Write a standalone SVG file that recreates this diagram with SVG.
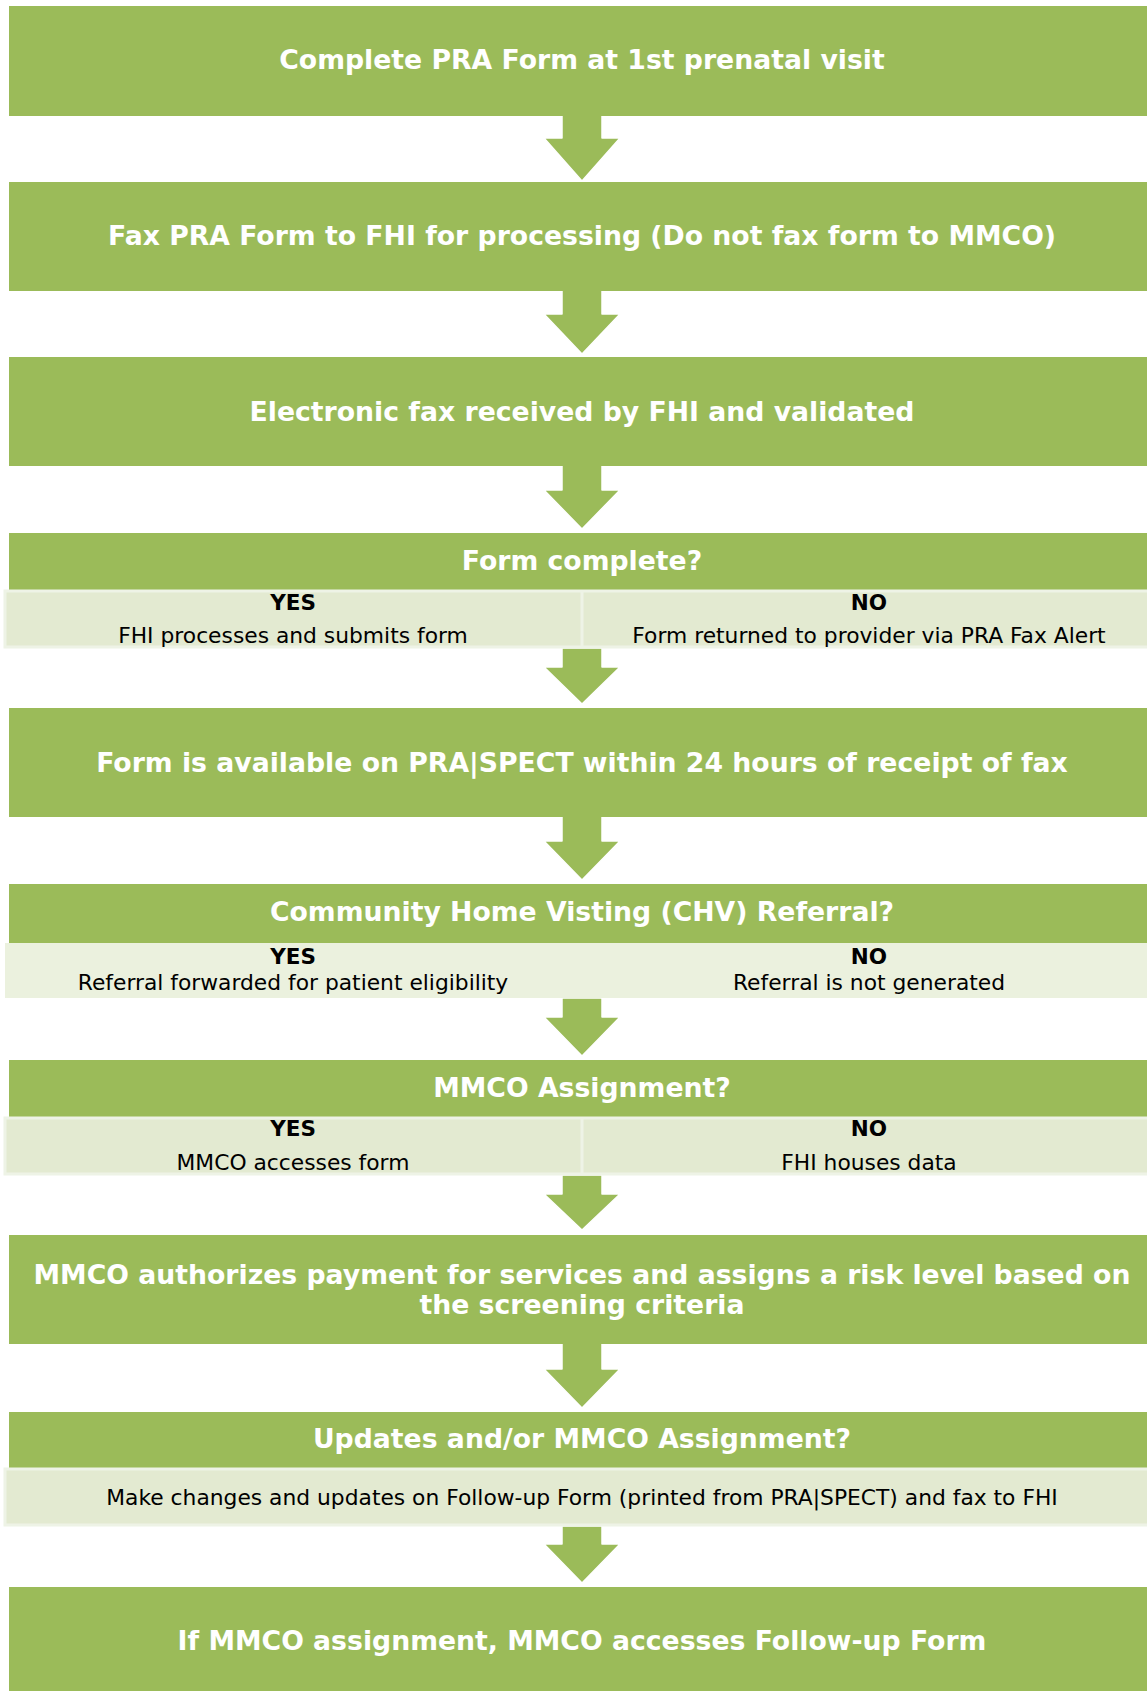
<svg xmlns="http://www.w3.org/2000/svg" width="1147" height="1691" viewBox="0 0 1147 1691">
<style>
.box{fill:#9bbb59}
.sub{fill:#e3ead1;stroke:#eef3e6;stroke-width:3}
.subl{fill:#ebf1de}
.div{stroke:#eef3e6;stroke-width:3}
.arr{fill:#9bbb59;stroke:#ffffff;stroke-width:1.5;stroke-linejoin:round}
.h{font-family:"DejaVu Sans",Verdana,sans-serif;font-weight:bold;font-size:26.7px;fill:#ffffff;text-anchor:middle}
.t{font-family:"DejaVu Sans",Verdana,sans-serif;font-size:21.8px;fill:#000000;text-anchor:middle}
.tb{font-family:"DejaVu Sans",Verdana,sans-serif;font-weight:bold;font-size:21.5px;fill:#000000;text-anchor:middle}
</style>
<rect x="0" y="0" width="1147" height="1691" fill="#ffffff"/>
<g id="connectors">
<path class="arr" d="M562,115 L602,115 L602,138 L620,138 L582,181 L544,138 L562,138 Z"/>
<path class="arr" d="M562,290 L602,290 L602,314 L620,314 L582,354 L544,314 L562,314 Z"/>
<path class="arr" d="M562,465 L602,465 L602,490 L620,490 L582,529 L544,490 L562,490 Z"/>
<path class="arr" d="M562,648 L602,648 L602,667 L620,667 L582,704 L544,667 L562,667 Z"/>
<path class="arr" d="M562,816 L602,816 L602,841 L620,841 L582,880 L544,841 L562,841 Z"/>
<path class="arr" d="M562,998 L602,998 L602,1017 L620,1017 L582,1056 L544,1017 L562,1017 Z"/>
<path class="arr" d="M562,1175 L602,1175 L602,1194 L620,1194 L582,1230 L544,1194 L562,1194 Z"/>
<path class="arr" d="M562,1343 L602,1343 L602,1369 L620,1369 L582,1408 L544,1369 L562,1369 Z"/>
<path class="arr" d="M562,1526 L602,1526 L602,1544 L620,1544 L582,1583 L544,1544 L562,1544 Z"/>
</g>
<g id="n1">
<rect class="box" x="9" y="6" width="1146" height="110"/>
<text class="h" x="582" y="69">Complete PRA Form at 1st prenatal visit</text>
</g>
<g id="n2">
<rect class="box" x="9" y="182" width="1146" height="109"/>
<text class="h" x="582" y="245">Fax PRA Form to FHI for processing (Do not fax form to MMCO)</text>
</g>
<g id="n3">
<rect class="box" x="9" y="357" width="1146" height="109"/>
<text class="h" x="582" y="421">Electronic fax received by FHI and validated</text>
</g>
<g id="n4">
<rect class="box" x="9" y="533" width="1146" height="57"/>
<text class="h" x="582" y="570">Form complete?</text>
<rect class="sub" x="5" y="591" width="1160" height="56"/>
<line class="div" x1="582" y1="592" x2="582" y2="646"/>
<text class="tb" x="293" y="610">YES</text>
<text class="t" x="293" y="643">FHI processes and submits form</text>
<text class="tb" x="869" y="610">NO</text>
<text class="t" x="869" y="643">Form returned to provider via PRA Fax Alert</text>
</g>
<g id="n5">
<rect class="box" x="9" y="708" width="1146" height="109"/>
<text class="h" x="582" y="772">Form is available on PRA|SPECT within 24 hours of receipt of fax</text>
</g>
<g id="n6">
<rect class="box" x="9" y="884" width="1146" height="59"/>
<text class="h" x="582" y="921">Community Home Visting (CHV) Referral?</text>
<rect class="subl" x="5" y="943" width="1160" height="55"/>
<text class="tb" x="293" y="964">YES</text>
<text class="t" x="293" y="990">Referral forwarded for patient eligibility</text>
<text class="tb" x="869" y="964">NO</text>
<text class="t" x="869" y="990">Referral is not generated</text>
</g>
<g id="n7">
<rect class="box" x="9" y="1060" width="1146" height="57"/>
<text class="h" x="582" y="1097">MMCO Assignment?</text>
<rect class="sub" x="5" y="1118" width="1160" height="56"/>
<line class="div" x1="582" y1="1119" x2="582" y2="1173"/>
<text class="tb" x="293" y="1136">YES</text>
<text class="t" x="293" y="1170">MMCO accesses form</text>
<text class="tb" x="869" y="1136">NO</text>
<text class="t" x="869" y="1170">FHI houses data</text>
</g>
<g id="n8">
<rect class="box" x="9" y="1235" width="1146" height="109"/>
<text class="h" x="582" y="1284">MMCO authorizes payment for services and assigns a risk level based on</text>
<text class="h" x="582" y="1314">the screening criteria</text>
</g>
<g id="n9">
<rect class="box" x="9" y="1412" width="1146" height="56"/>
<text class="h" x="582" y="1448">Updates and/or MMCO Assignment?</text>
<rect class="sub" x="5" y="1469" width="1160" height="56"/>
<text class="t" x="582" y="1505">Make changes and updates on Follow-up Form (printed from PRA|SPECT) and fax to FHI</text>
</g>
<g id="n10">
<rect class="box" x="9" y="1587" width="1146" height="110"/>
<text class="h" x="582" y="1650">If MMCO assignment, MMCO accesses Follow-up Form</text>
</g>
</svg>
